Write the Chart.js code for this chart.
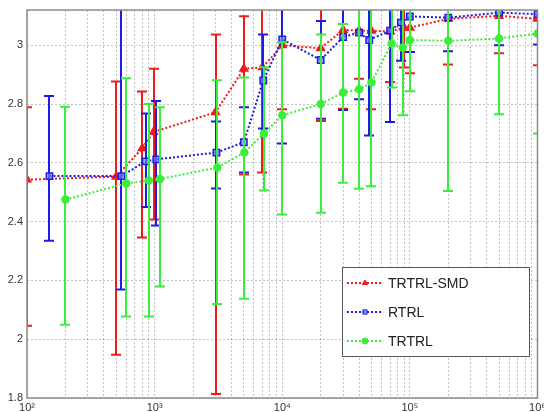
<!DOCTYPE html>
<html>
<head>
<meta charset="utf-8">
<script src="https://cdn.jsdelivr.net/npm/chart.js@4.4.1/dist/chart.umd.min.js"></script>
<style>
  html, body { margin: 0; padding: 0; background: #fff; }
</style>
</head>
<body>
<canvas id="chart" width="544" height="412"></canvas>
<script>
// TRTRL-SMD (red)
const smdX    = [100, 500, 800, 980, 3000, 5000, 7000, 10000, 20000, 30000, 40000, 50000, 70000, 90000, 100000, 200000, 500000, 1000000];
const smdY    = [2.543, 2.553, 2.65, 2.705, 2.772, 2.92, 2.925, 3.0, 2.99, 3.052, 3.05, 3.049, 3.047, 3.06, 3.06, 3.09, 3.10, 3.09];
const smdLow  = [2.046, 1.947, 2.346, 2.407, 1.814, 2.56, 2.567, 2.782, 2.742, 2.784, 2.886, 2.782, 2.875, 2.924, 2.905, 2.935, 2.973, 2.932];
const smdHigh = [2.789, 2.877, 2.843, 2.92, 3.037, 3.099, 3.3, 3.25, 3.25, 3.3, 3.22, 3.3, 3.22, 3.2, 3.2, 3.25, 3.22, 3.25];

// RTRL (blue)
const rtrlX    = [150, 550, 850, 1030, 3050, 5000, 7100, 10000, 20000, 30000, 40000, 48000, 70000, 85000, 100000, 200000, 500000, 1000000];
const rtrlY    = [2.555, 2.555, 2.605, 2.612, 2.635, 2.67, 2.88, 3.02, 2.95, 3.028, 3.043, 3.018, 3.05, 3.077, 3.098, 3.094, 3.111, 3.106];
const rtrlLow  = [2.335, 2.169, 2.45, 2.387, 2.513, 2.567, 2.717, 2.666, 2.75, 2.78, 2.816, 2.693, 2.739, 2.947, 2.977, 2.98, 3.0, 3.003];
const rtrlHigh = [2.827, 3.3, 2.768, 2.81, 2.741, 2.789, 3.037, 3.3, 3.083, 3.3, 3.3, 3.3, 3.3, 3.2, 3.22, 3.2, 3.22, 3.21];

// TRTRL (green)
const trtrlX    = [200, 600, 900, 1100, 3100, 5050, 7200, 10000, 20000, 30000, 40000, 50000, 72000, 88000, 100000, 200000, 500000, 1000000];
const trtrlY    = [2.475, 2.53, 2.54, 2.545, 2.584, 2.635, 2.70, 2.762, 2.80, 2.839, 2.85, 2.873, 3.006, 2.992, 3.018, 3.015, 3.023, 3.04];
const trtrlLow  = [2.049, 2.077, 2.077, 2.179, 2.12, 2.138, 2.506, 2.424, 2.43, 2.532, 2.512, 2.52, 2.856, 2.762, 2.844, 2.504, 2.765, 2.70];
const trtrlHigh = [2.791, 2.888, 2.80, 2.789, 2.881, 2.89, 2.925, 3.01, 3.037, 3.072, 3.3, 3.3, 3.3, 3.3, 3.3, 3.5, 3.3, 3.4];

const seriesNames = ['TRTRL-SMD', 'RTRL', 'TRTRL'];
const yTicks = [1.8, 2.0, 2.2, 2.4, 2.6, 2.8, 3.0];
const xDecades = [2, 3, 4, 5, 6];

const RED = '#f01c1c';
const BLUE = '#1c1ce6';
const GREEN = '#3cee3c';
const SUP = { 2: '\u00b2', 3: '\u00b3', 4: '\u2074', 5: '\u2075', 6: '\u2076' };

function points(xs, ys) {
    return xs.map((x, i) => ({ x: x, y: ys[i] }));
}

// vertical error bars with caps, drawn just before each line
const errorBarPlugin = {
    id: 'errorBars',
    beforeDatasetDraw(chart, args) {
        const ds = chart.data.datasets[args.index];
        if (!ds.errLow) return;
        const ctx = chart.ctx;
        const a = chart.chartArea;
        const xs = chart.scales.x, ys = chart.scales.y;
        ctx.save();
        ctx.beginPath();
        ctx.rect(a.left, a.top, a.right - a.left, a.bottom - a.top);
        ctx.clip();
        ctx.strokeStyle = ds.borderColor;
        ctx.lineWidth = 2;
        ds.data.forEach((p, i) => {
            const px = Math.round(xs.getPixelForValue(p.x));
            const lo = ys.getPixelForValue(ds.errLow[i]);
            const hi = ys.getPixelForValue(ds.errHigh[i]);
            ctx.beginPath();
            ctx.moveTo(px, lo); ctx.lineTo(px, hi);
            ctx.moveTo(px - 5, lo); ctx.lineTo(px + 5, lo);
            ctx.moveTo(px - 5, hi); ctx.lineTo(px + 5, hi);
            ctx.stroke();
        });
        ctx.restore();
    }
};

// axes box and the legend inside the plot
const boxLegendPlugin = {
    id: 'boxLegend',
    afterDraw(chart) {
        const ctx = chart.ctx;
        const a = chart.chartArea;
        ctx.save();
        ctx.strokeStyle = '#8a8a8a';
        ctx.lineWidth = 1.5;
        ctx.strokeRect(a.left, a.top, a.right - a.left, a.bottom - a.top);

        const lx = 342, ly = 267, lw = 187, lh = 89;
        ctx.fillStyle = '#fff';
        ctx.fillRect(lx, ly, lw, lh);
        ctx.strokeStyle = '#555';
        ctx.lineWidth = 1;
        ctx.strokeRect(lx + 0.5, ly + 0.5, lw, lh);

        chart.data.datasets.forEach((ds, i) => {
            const cy = ly + 16 + i * 29;
            ctx.strokeStyle = ds.borderColor;
            ctx.lineWidth = 2;
            ctx.setLineDash([2, 2]);
            ctx.beginPath();
            ctx.moveTo(lx + 5, cy);
            ctx.lineTo(lx + 41, cy);
            ctx.stroke();
            ctx.setLineDash([]);
            ctx.fillStyle = ds.pointBackgroundColor;
            ctx.strokeStyle = ds.borderColor;
            ctx.lineWidth = 1;
            Chart.helpers.drawPoint(ctx, {
                pointStyle: ds.pointStyle, radius: 3, rotation: 0, borderWidth: 1
            }, lx + 23, cy);
            ctx.fillStyle = '#222';
            ctx.font = '14px "Liberation Sans", Arial, sans-serif';
            ctx.textBaseline = 'middle';
            ctx.textAlign = 'left';
            ctx.fillText(ds.label, lx + 46, cy + 1);
        });
        ctx.restore();
    }
};

const gridStyle = { color: 'rgba(0, 0, 0, 0.24)', lineWidth: 1, drawTicks: false };
const tickFont = { family: '"Liberation Sans", Arial, sans-serif', size: 11 };

new Chart(document.getElementById('chart'), {
    type: 'line',
    data: {
        datasets: [{
            label: seriesNames[0],
            data: points(smdX, smdY),
            errLow: smdLow,
            errHigh: smdHigh,
            borderColor: RED,
            pointBackgroundColor: RED,
            pointStyle: 'triangle',
            pointRadius: 4.5,
            order: 3
        }, {
            label: seriesNames[1],
            data: points(rtrlX, rtrlY),
            errLow: rtrlLow,
            errHigh: rtrlHigh,
            borderColor: BLUE,
            pointBackgroundColor: 'rgba(110, 130, 255, 0.7)',
            pointStyle: 'rect',
            pointRadius: 4.5,
            order: 2
        }, {
            label: seriesNames[2],
            data: points(trtrlX, trtrlY),
            errLow: trtrlLow,
            errHigh: trtrlHigh,
            borderColor: GREEN,
            pointBackgroundColor: GREEN,
            pointStyle: 'circle',
            pointRadius: 3.5,
            order: 1
        }]
    },
    options: {
        responsive: false,
        animation: false,
        layout: { padding: { top: 10, right: 3, left: 0, bottom: 0 } },
        elements: {
            line: { borderWidth: 2, borderDash: [2, 2], tension: 0, fill: false },
            point: { borderWidth: 1.5, hoverRadius: 5 }
        },
        scales: {
            x: {
                type: 'logarithmic',
                min: 100,
                max: 1000000,
                grid: gridStyle,
                border: { display: false, dash: [2, 2] },
                afterBuildTicks(scale) {
                    const ticks = [];
                    xDecades.forEach(e => {
                        const base = Math.pow(10, e);
                        if (e === 6) { ticks.push({ value: base, major: true }); return; }
                        for (let m = 1; m < 10; m++) ticks.push({ value: m * base, major: m === 1 });
                    });
                    scale.ticks = ticks;
                },
                afterFit(scale) {
                    scale.height = 14;
                    scale.paddingLeft = 0;
                    scale.paddingRight = 0;
                },
                ticks: {
                    autoSkip: false,
                    maxRotation: 0,
                    padding: 3,
                    color: '#333',
                    font: tickFont,
                    callback: function(value) {
                        const e = Math.round(Math.log10(value));
                        return Math.abs(Math.pow(10, e) - value) < 1e-6 ? '10' + SUP[e] : '';
                    }
                }
            },
            y: {
                min: 1.8,
                max: 3.12,
                grid: gridStyle,
                border: { display: false, dash: [2, 2] },
                afterBuildTicks(scale) {
                    scale.ticks = yTicks.map(v => ({ value: v }));
                },
                afterFit(scale) {
                    scale.width = 27;
                    scale.paddingTop = 0;
                    scale.paddingBottom = 0;
                },
                ticks: {
                    padding: 4,
                    color: '#333',
                    font: tickFont,
                    callback: function(value) {
                        return String(Number(value.toFixed(1)));
                    }
                }
            }
        },
        plugins: {
            legend: { display: false },
            tooltip: { enabled: false }
        }
    },
    plugins: [errorBarPlugin, boxLegendPlugin]
});
</script>
</body>
</html>
